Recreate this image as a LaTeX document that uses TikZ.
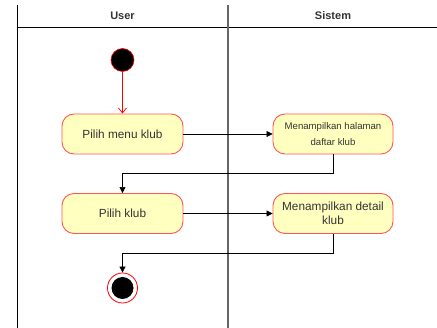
\documentclass[tikz,border=0pt]{standalone}
\usepackage{fontspec}
\setmainfont{Liberation Sans}
\usetikzlibrary{arrows.meta}
\definecolor{actfill}{HTML}{FFFFC0}
\definecolor{actline}{HTML}{FF5555}
\definecolor{txtc}{HTML}{333333}
\begin{document}
\begin{tikzpicture}[x=1pt,y=-1pt,
  act/.style={draw=actline, fill=actfill, line width=0.9pt, rounded corners=12pt,
    minimum width=121pt, minimum height=40pt, align=center, text=txtc,
    font=\fontsize{11.8}{14.5}\selectfont, inner sep=2pt},
  smallact/.style={act, font=\fontsize{9.6}{15.5}\selectfont},
  flow/.style={draw=black, line width=0.7pt, -{Triangle[length=6pt,width=6pt]}},
  head/.style={font=\bfseries\fontsize{11}{13}\selectfont, text=txtc}]
\useasboundingbox (0,0) rectangle (437,328);
% swimlane frame
\draw[line width=0.9pt] (17,5) -- (17,328);
\draw[line width=0.9pt] (17,27) -- (437,27);
\draw[gray!80!black, line width=1.3pt] (228,5) -- (228,328);
\node[head] (huser) at (122.5,16) {User};
\node[head] (hsis) at (333,16) {Sistem};
% nodes
\node[circle, fill=black, draw=red, line width=0.6pt, minimum size=23pt, inner sep=0pt] (start) at (122.5,60) {};
\node[act] (a1) at (122.5,134) {Pilih menu klub};
\node[smallact, minimum width=120pt] (a2) at (333,134) {Menampilkan halaman\\daftar klub};
\node[act] (a3) at (122.5,213.5) {Pilih klub};
\node[act, minimum width=120pt] (a4) at (333,213.5) {Menampilkan detail\\klub};
\node[circle, draw=red, fill=white, line width=0.8pt, minimum size=30pt, inner sep=0pt] (end) at (122.5,288) {};
\node[circle, fill=black, minimum size=22pt, inner sep=0pt] (endin) at (end.center) {};
% connectors
\draw[draw=red, line width=0.7pt, -{Straight Barb[length=5pt,width=8pt]}] (start) -- (a1);
\draw[flow] (a1) -- (a2);
\draw[flow] (a2.south) |- (122.5,173) -- (a3.north);
\draw[flow] (a3) -- (a4);
\draw[flow] (a4.south) |- (122.5,253) -- (end.north);
\end{tikzpicture}
\end{document}
